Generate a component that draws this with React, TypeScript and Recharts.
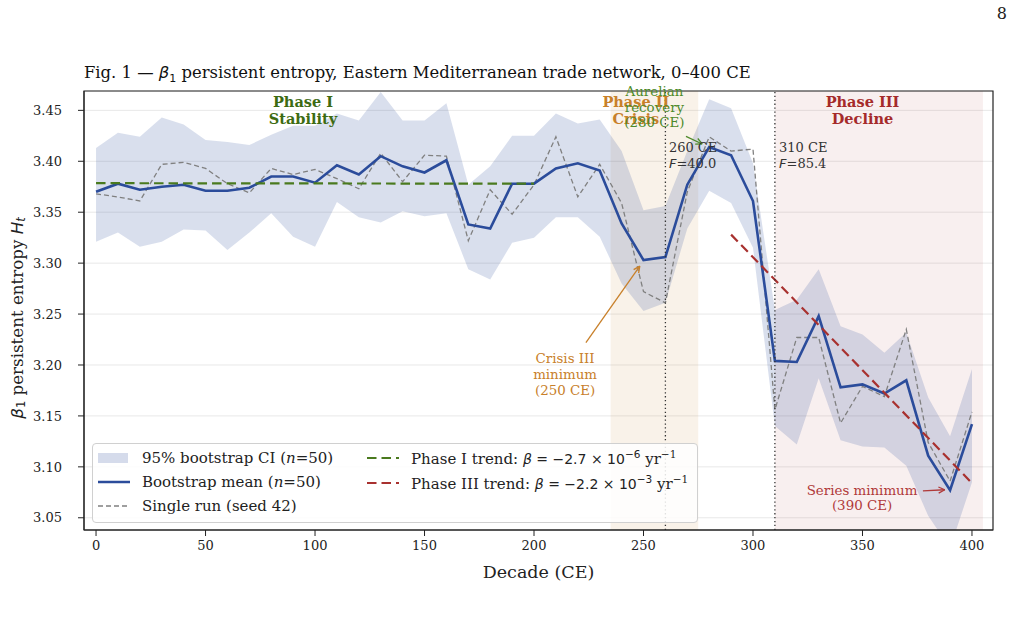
import React from 'react'
import {
  ComposedChart,
  Area,
  Line,
  XAxis,
  YAxis,
  CartesianGrid,
  ReferenceArea,
  ReferenceLine,
  ReferenceDot,
  Label,
} from 'recharts'

// decades (CE)
const decades = [
  0, 10, 20, 30, 40, 50, 60, 70, 80, 90, 100, 110, 120, 130, 140, 150, 160, 170, 180, 190, 200,
  210, 220, 230, 240, 250, 260, 270, 280, 290, 300, 310, 320, 330, 340, 350, 360, 370, 380, 390, 400,
]

// 95% bootstrap CI
const ciLower = [
  3.321, 3.33, 3.316, 3.321, 3.333, 3.332, 3.313, 3.33, 3.349, 3.326, 3.316, 3.36, 3.345, 3.34,
  3.351, 3.346, 3.349, 3.294, 3.284, 3.32, 3.325, 3.345, 3.345, 3.326, 3.28, 3.253, 3.261, 3.334,
  3.371, 3.359, 3.315, 3.14, 3.122, 3.187, 3.126, 3.12, 3.119, 3.101, 3.052, 3.02, 3.085,
]
const ciUpper = [
  3.413, 3.428, 3.424, 3.443, 3.436, 3.421, 3.419, 3.416, 3.426, 3.435, 3.435, 3.447, 3.44, 3.468,
  3.44, 3.44, 3.457, 3.377, 3.395, 3.425, 3.425, 3.447, 3.437, 3.441, 3.41, 3.352, 3.356, 3.41,
  3.461, 3.452, 3.398, 3.254, 3.264, 3.294, 3.238, 3.23, 3.212, 3.232, 3.168, 3.13, 3.196,
]

// bootstrap mean (n=50)
const bootMean = [
  3.37, 3.378, 3.372, 3.375, 3.377, 3.371, 3.371, 3.374, 3.385, 3.385, 3.379, 3.396, 3.387, 3.405,
  3.395, 3.389, 3.401, 3.338, 3.334, 3.378, 3.378, 3.393, 3.398, 3.391, 3.339, 3.303, 3.306, 3.377,
  3.414, 3.406, 3.361, 3.204, 3.203, 3.248, 3.178, 3.181, 3.172, 3.185, 3.111, 3.077, 3.142,
]

// single run (seed 42)
const singleRun = [
  3.368, 3.365, 3.361, 3.397, 3.399, 3.393, 3.378, 3.369, 3.393, 3.387, 3.392, 3.383, 3.373, 3.408,
  3.38, 3.406, 3.405, 3.322, 3.372, 3.348, 3.377, 3.424, 3.365, 3.397, 3.359, 3.272, 3.261, 3.37,
  3.424, 3.41, 3.412, 3.156, 3.227, 3.227, 3.143, 3.179, 3.169, 3.235, 3.124, 3.086, 3.154,
]

// trend segments: [start decade, end decade] and fitted values there
const phase1Span = [0, 200]
const phase1Trend = [3.3785, 3.378]
const phase3Span = [290, 400]
const phase3Trend = [3.328, 3.084]

const xTicks = [0, 50, 100, 150, 200, 250, 300, 350, 400]
const yTicks = [3.05, 3.1, 3.15, 3.2, 3.25, 3.3, 3.35, 3.4, 3.45]

const data = decades.map((d, i) => ({
  decade: d,
  ci: [ciLower[i], ciUpper[i]],
  mean: bootMean[i],
  run: singleRun[i],
}))

const SERIF = '"DejaVu Serif", serif'
const MATH = '"DejaVu Sans", sans-serif'
const BLUE = '#2b4c9b'
const GREEN = '#4a7a1e'
const RED = '#a8312f'
const ORANGE = '#c8802a'

// multi-line text drawn at a reference point
const note =
  (lines: React.ReactNode[], color: string, size: number, opts: { bold?: boolean; anchor?: string; lh?: number } = {}) =>
  (p: any) => (
    <text
      x={p.cx}
      y={p.cy}
      fill={color}
      fontFamily={SERIF}
      fontSize={size}
      fontWeight={opts.bold ? 'bold' : 'normal'}
      textAnchor={opts.anchor || 'middle'}
      dominantBaseline="central"
    >
      {lines.map((l, i) => (
        <tspan key={i} x={p.cx} dy={i === 0 ? 0 : opts.lh || size * 1.18}>
          {l}
        </tspan>
      ))}
    </text>
  )

// simple "->" arrow between the two ends of a segment
const arrow = (color: string) => (p: any) => {
  const { x1, y1, x2, y2 } = p
  const a = Math.atan2(y2 - y1, x2 - x1)
  const L = 7
  const s = 0.45
  return (
    <g stroke={color} strokeWidth={1.3} fill="none">
      <line x1={x1} y1={y1} x2={x2} y2={y2} />
      <line x1={x2} y1={y2} x2={x2 - L * Math.cos(a - s)} y2={y2 - L * Math.sin(a - s)} />
      <line x1={x2} y1={y2} x2={x2 - L * Math.cos(a + s)} y2={y2 - L * Math.sin(a + s)} />
    </g>
  )
}

const Fval = (v: string) => (
  <>
    <tspan fontFamily={MATH} fontStyle="italic">F</tspan>
    <tspan>={v}</tspan>
  </>
)

const YTick = (p: any) => (
  <text x={84 - 22} y={p.y} dy="0.36em" textAnchor="end" fontFamily={SERIF} fontSize={13} fill="#222">
    {Number(p.payload.value).toFixed(2)}
  </text>
)

const YTitle = () => {
  const cx = 17
  const cy = 318
  return (
    <text
      x={cx}
      y={cy}
      transform={`rotate(-90 ${cx} ${cy})`}
      textAnchor="middle"
      dominantBaseline="central"
      fontFamily={SERIF}
      fontSize={16.7}
      fill="#222"
    >
      <tspan fontFamily={MATH} fontStyle="italic">β</tspan>
      <tspan fontFamily={MATH} fontSize={11.5} dy={4}>1</tspan>
      <tspan dy={-4}> persistent entropy </tspan>
      <tspan fontFamily={MATH} fontStyle="italic">H</tspan>
      <tspan fontFamily={MATH} fontStyle="italic" fontSize={11.5} dy={4}>t</tspan>
    </text>
  )
}

const legendRow: React.CSSProperties = {
  position: 'absolute',
  display: 'flex',
  alignItems: 'center',
  whiteSpace: 'nowrap',
}

function LegendBox() {
  const dash = (color: string, w: number, pattern: string) => (
    <svg width={34} height={10} style={{ marginRight: 11 }}>
      <line x1={1} y1={5} x2={33} y2={5} stroke={color} strokeWidth={w} strokeDasharray={pattern} />
    </svg>
  )
  const sup = { fontSize: 10.5 }
  return (
    <div
      style={{
        position: 'absolute',
        left: 92,
        top: 443,
        width: 604,
        height: 78,
        border: '1px solid #d0d0d0',
        borderRadius: 4,
        background: 'rgba(255,255,255,0.85)',
        fontFamily: SERIF,
        fontSize: 15,
        color: '#222',
      }}
    >
      <div style={{ ...legendRow, left: 5, top: 5 }}>
        <div style={{ width: 30, height: 10, background: BLUE, opacity: 0.2, marginRight: 14 }} />
        <span>95% bootstrap CI (<i>n</i>=50)</span>
      </div>
      <div style={{ ...legendRow, left: 4, top: 29 }}>
        {dash(BLUE, 2.5, '')}
        <span>Bootstrap mean (<i>n</i>=50)</span>
      </div>
      <div style={{ ...legendRow, left: 4, top: 53 }}>
        {dash('#808080', 1.3, '5 3')}
        <span>Single run (seed 42)</span>
      </div>
      <div style={{ ...legendRow, left: 273, top: 4 }}>
        {dash(GREEN, 2.2, '9.5 5')}
        <span>
          Phase I trend:{' '}
          <span style={{ fontFamily: MATH, fontSize: 14 }}>
            <i>β</i> = −2.7 × 10<sup style={sup}>−6</sup>
          </span>{' '}
          yr<sup style={sup}>−1</sup>
        </span>
      </div>
      <div style={{ ...legendRow, left: 273, top: 29 }}>
        {dash(RED, 2.2, '9.5 5')}
        <span>
          Phase III trend:{' '}
          <span style={{ fontFamily: MATH, fontSize: 14 }}>
            <i>β</i> = −2.2 × 10<sup style={sup}>−3</sup>
          </span>{' '}
          yr<sup style={sup}>−1</sup>
        </span>
      </div>
    </div>
  )
}

export default function App() {
  return (
    <div style={{ position: 'absolute', left: 0, top: 0, width: 1013, height: 627, background: '#fff' }}>
      <div style={{ position: 'absolute', right: 6, top: 4, fontFamily: SERIF, fontSize: 16, color: '#222' }}>8</div>
      <div style={{ position: 'absolute', left: 84, top: 63, fontFamily: SERIF, fontSize: 16.4, color: '#111', whiteSpace: 'nowrap' }}>
        Fig. 1 — <span style={{ fontFamily: MATH, fontStyle: 'italic' }}>β</span>
        <sub style={{ fontFamily: MATH, fontSize: 11 }}>1</sub> persistent entropy, Eastern Mediterranean trade network, 0–400 CE
      </div>
      <ComposedChart width={1013} height={627} data={data} margin={{ top: 91, right: 20, bottom: 0, left: 0 }}>
        <CartesianGrid horizontal vertical={false} stroke="#e8e8e8" strokeWidth={1} />
        <ReferenceArea x1={235} x2={275} fill={ORANGE} fillOpacity={0.1} stroke="none" />
        <ReferenceArea x1={310} x2={405} fill={RED} fillOpacity={0.08} stroke="none" />
        <XAxis
          dataKey="decade"
          type="number"
          domain={[-5.5, 409.6]}
          ticks={xTicks}
          allowDataOverflow
          height={97}
          tickSize={6}
          tickMargin={5}
          tick={{ fontFamily: SERIF, fontSize: 13, fill: '#222' }}
          axisLine={{ stroke: '#222' }}
          tickLine={{ stroke: '#222' }}
        >
          <Label value="Decade (CE)" position="insideTop" offset={36} style={{ fontFamily: SERIF, fontSize: 17.5, fill: '#222' }} />
        </XAxis>
        <YAxis
          type="number"
          domain={[3.038, 3.469]}
          ticks={yTicks}
          allowDataOverflow
          width={84}
          tickSize={6}
          tick={YTick}
          axisLine={{ stroke: '#222' }}
          tickLine={{ stroke: '#222' }}
        >
          <Label content={() => <YTitle />} />
        </YAxis>
        <Area dataKey="ci" stroke="none" fill={BLUE} fillOpacity={0.18} isAnimationActive={false} activeDot={false} />
        <Line dataKey="run" stroke="#808080" strokeWidth={1.3} strokeDasharray="5 3" dot={false} activeDot={false} isAnimationActive={false} />
        <Line dataKey="mean" stroke={BLUE} strokeWidth={2.6} dot={false} activeDot={false} isAnimationActive={false} />
        <ReferenceLine
          segment={[{ x: phase1Span[0], y: phase1Trend[0] }, { x: phase1Span[1], y: phase1Trend[1] }]}
          stroke={GREEN}
          strokeWidth={2.2}
          strokeDasharray="9.5 5"
          ifOverflow="visible"
        />
        <ReferenceLine
          segment={[{ x: phase3Span[0], y: phase3Trend[0] }, { x: phase3Span[1], y: phase3Trend[1] }]}
          stroke={RED}
          strokeWidth={2.2}
          strokeDasharray="9.5 5"
          ifOverflow="visible"
        />
        <ReferenceLine x={260} stroke="#333" strokeWidth={1.3} strokeDasharray="1.3 2.6" />
        <ReferenceLine x={310} stroke="#333" strokeWidth={1.3} strokeDasharray="1.3 2.6" />

        <ReferenceDot x={94.5} y={3.4593} r={0} ifOverflow="visible" shape={note(['Phase I', 'Stability'], '#3d6b12', 14.5, { bold: true, lh: 17 })} />
        <ReferenceDot x={246.5} y={3.4593} r={0} ifOverflow="visible" shape={note(['Phase II', 'Crisis'], ORANGE, 14.5, { bold: true, lh: 17 })} />
        <ReferenceDot x={350} y={3.4593} r={0} ifOverflow="visible" shape={note(['Phase III', 'Decline'], '#a52a2a', 14.5, { bold: true, lh: 17 })} />
        <ReferenceDot x={255} y={3.469} r={0} ifOverflow="visible" shape={note(['Aurelian', 'recovery', '(280 CE)'], '#4e8a2a', 13.4, { lh: 15.5 })} />
        <ReferenceDot x={261.6} y={3.414} r={0} ifOverflow="visible" shape={note(['260 CE', Fval('40.0')], '#333', 13, { anchor: 'start', lh: 15.5 })} />
        <ReferenceDot x={311.9} y={3.414} r={0} ifOverflow="visible" shape={note(['310 CE', Fval('85.4')], '#333', 13, { anchor: 'start', lh: 15.5 })} />
        <ReferenceDot x={214.2} y={3.2068} r={0} ifOverflow="visible" shape={note(['Crisis III', 'minimum', '(250 CE)'], ORANGE, 13.4, { lh: 15.8 })} />
        <ReferenceDot x={349.8} y={3.077} r={0} ifOverflow="visible" shape={note(['Series minimum', '(390 CE)'], '#b03a3a', 13.4, { lh: 15 })} />

        <ReferenceLine segment={[{ x: 269.4, y: 3.4245 }, { x: 276.8, y: 3.417 }]} ifOverflow="visible" shape={arrow('#4e8a2a')} />
        <ReferenceLine segment={[{ x: 223.7, y: 3.222 }, { x: 248.3, y: 3.297 }]} ifOverflow="visible" shape={arrow(ORANGE)} />
        <ReferenceLine segment={[{ x: 377.6, y: 3.0765 }, { x: 387.6, y: 3.0775 }]} ifOverflow="visible" shape={arrow('#b03a3a')} />

        <ReferenceArea x1={-5.5} x2={409.6} y1={3.038} y2={3.469} fill="none" stroke="#222" strokeWidth={1.2} ifOverflow="visible" />
      </ComposedChart>
      <LegendBox />
    </div>
  )
}
